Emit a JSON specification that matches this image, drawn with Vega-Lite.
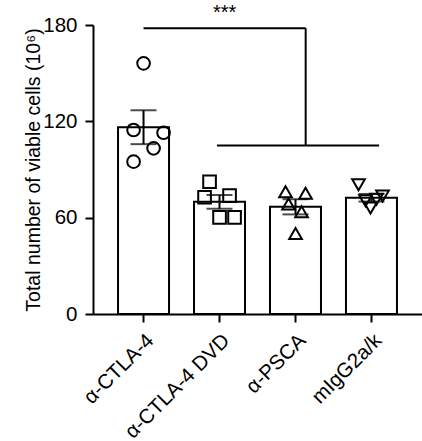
{
  "$schema": "https://vega.github.io/schema/vega-lite/v6.json",
  "width": 329,
  "height": 289,
  "autosize": "none",
  "padding": {"left": 93, "top": 25, "right": 0, "bottom": 127},
  "background": "white",
  "config": {
    "view": {"stroke": null},
    "font": "Liberation Sans",
    "axis": {
      "domainColor": "black", "domainWidth": 2, "tickColor": "black", "tickWidth": 2, "tickSize": 8,
      "labelColor": "black", "labelFont": "Liberation Sans", "labelFontSize": 20.5, "labelPadding": 8,
      "titleColor": "black", "titleFont": "Liberation Sans", "titleFontWeight": "normal", "titleFontSize": 19.5,
      "grid": false
    }
  },
  "datasets": {
    "cells": [
      {"group": "α-CTLA-4", "lane": 0, "value": 156.1},
      {"group": "α-CTLA-4", "lane": -2, "value": 114.6},
      {"group": "α-CTLA-4", "lane": 4, "value": 112.9},
      {"group": "α-CTLA-4", "lane": 2, "value": 103.2},
      {"group": "α-CTLA-4", "lane": -2, "value": 94.9},
      {"group": "α-CTLA-4 DVD", "lane": -2, "value": 82.4},
      {"group": "α-CTLA-4 DVD", "lane": -3, "value": 72.7},
      {"group": "α-CTLA-4 DVD", "lane": 2, "value": 73.7},
      {"group": "α-CTLA-4 DVD", "lane": 0, "value": 60.2},
      {"group": "α-CTLA-4 DVD", "lane": 3, "value": 60.2},
      {"group": "α-PSCA", "lane": -2, "value": 76.2},
      {"group": "α-PSCA", "lane": 2, "value": 75.2},
      {"group": "α-PSCA", "lane": -1.4, "value": 68.5},
      {"group": "α-PSCA", "lane": 1.2, "value": 63.7},
      {"group": "α-PSCA", "lane": 0, "value": 50.2},
      {"group": "mIgG2a/k", "lane": -2.6, "value": 80.5},
      {"group": "mIgG2a/k", "lane": 2.2, "value": 73.5},
      {"group": "mIgG2a/k", "lane": 1, "value": 71.5},
      {"group": "mIgG2a/k", "lane": -1.2, "value": 70.5},
      {"group": "mIgG2a/k", "lane": -0.2, "value": 66}
    ]
  },
  "layer": [
    {
      "data": {"name": "cells"},
      "mark": {"type": "bar", "fill": "white", "stroke": "black", "strokeWidth": 2, "width": 51},
      "encoding": {
        "x": {"field": "group", "type": "nominal",
              "scale": {"domain": ["α-CTLA-4", "α-CTLA-4 DVD", "α-PSCA", "mIgG2a/k"], "paddingInner": 0.33, "paddingOuter": 0.33},
              "axis": {"title": null, "labelAngle": -45, "labelFontSize": 20.5}},
        "y": {"aggregate": "mean", "field": "value", "type": "quantitative",
              "title": "Total number of viable cells (10⁶)",
              "scale": {"domain": [0, 180]},
              "axis": {"values": [0, 60, 120, 180], "titlePadding": -1}}
      }
    },
    {
      "data": {"name": "cells"},
      "mark": {"type": "errorbar", "extent": "stderr", "color": "black",
               "rule": {"strokeWidth": 2}, "ticks": {"size": 26, "thickness": 2}},
      "encoding": {
        "x": {"field": "group", "type": "nominal", "title": null, "scale": {"domain": ["α-CTLA-4", "α-CTLA-4 DVD", "α-PSCA", "mIgG2a/k"]}},
        "y": {"field": "value", "type": "quantitative", "title": "Total number of viable cells (10⁶)"}
      }
    },
    {
      "data": {"name": "cells"},
      "mark": {"type": "point", "filled": false, "stroke": "black", "strokeWidth": 2, "size": 160, "opacity": 1},
      "encoding": {
        "x": {"field": "group", "type": "nominal", "title": null, "scale": {"domain": ["α-CTLA-4", "α-CTLA-4 DVD", "α-PSCA", "mIgG2a/k"]}},
        "xOffset": {"field": "lane", "type": "quantitative", "scale": {"domain": [-5, 5], "range": [0.5, 50.5]}},
        "y": {"field": "value", "type": "quantitative", "title": "Total number of viable cells (10⁶)"},
        "shape": {"field": "group", "type": "nominal",
                  "scale": {"domain": ["α-CTLA-4", "α-CTLA-4 DVD", "α-PSCA", "mIgG2a/k"], "range": ["circle", "square", "triangle-up", "triangle-down"]},
                  "legend": null}
      }
    },
    {
      "data": {"values": [{"from": "α-CTLA-4", "to": "α-PSCA", "y": 178}]},
      "mark": {"type": "rule", "color": "black", "strokeWidth": 2},
      "encoding": {
        "x": {"field": "from", "type": "nominal", "title": null, "bandPosition": 0.5, "scale": {"domain": ["α-CTLA-4", "α-CTLA-4 DVD", "α-PSCA", "mIgG2a/k"]}},
        "x2": {"field": "to", "bandPosition": 0.7},
        "y": {"field": "y", "type": "quantitative", "title": "Total number of viable cells (10⁶)"}
      }
    },
    {
      "data": {"values": [{"at": "α-PSCA", "top": 178, "bottom": 105}]},
      "mark": {"type": "rule", "color": "black", "strokeWidth": 2},
      "encoding": {
        "x": {"field": "at", "type": "nominal", "title": null, "bandPosition": 0.7, "scale": {"domain": ["α-CTLA-4", "α-CTLA-4 DVD", "α-PSCA", "mIgG2a/k"]}},
        "y": {"field": "top", "type": "quantitative", "title": "Total number of viable cells (10⁶)"},
        "y2": {"field": "bottom"}
      }
    },
    {
      "data": {"values": [{"from": "α-CTLA-4 DVD", "to": "mIgG2a/k", "y": 105}]},
      "mark": {"type": "rule", "color": "black", "strokeWidth": 2},
      "encoding": {
        "x": {"field": "from", "type": "nominal", "title": null, "bandPosition": 0.45, "scale": {"domain": ["α-CTLA-4", "α-CTLA-4 DVD", "α-PSCA", "mIgG2a/k"]}},
        "x2": {"field": "to", "bandPosition": 0.65},
        "y": {"field": "y", "type": "quantitative", "title": "Total number of viable cells (10⁶)"}
      }
    },
    {
      "data": {"values": [{"at": "α-CTLA-4 DVD", "y": 194, "label": "***"}]},
      "mark": {"type": "text", "color": "black", "fontSize": 20, "baseline": "top", "align": "center", "clip": false},
      "encoding": {
        "x": {"field": "at", "type": "nominal", "title": null, "bandPosition": 0.6, "scale": {"domain": ["α-CTLA-4", "α-CTLA-4 DVD", "α-PSCA", "mIgG2a/k"]}},
        "y": {"field": "y", "type": "quantitative", "title": "Total number of viable cells (10⁶)"},
        "text": {"field": "label"}
      }
    }
  ]
}
